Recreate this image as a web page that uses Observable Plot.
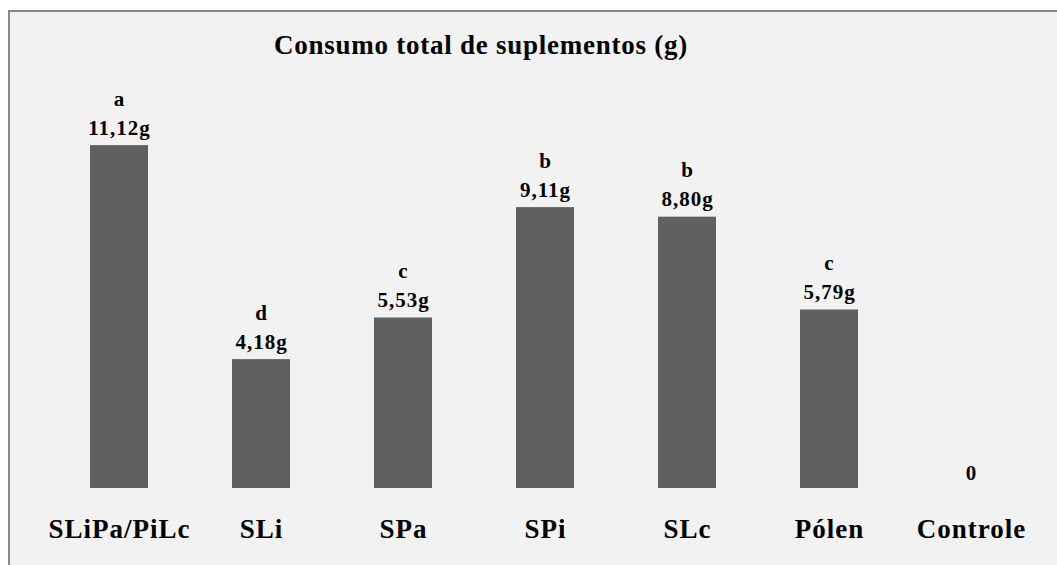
<!DOCTYPE html>
<html>
<head>
<meta charset="utf-8">
<script src="https://cdn.jsdelivr.net/npm/d3@7"></script>
<script src="https://cdn.jsdelivr.net/npm/@observablehq/plot@0.6"></script>
<style>
  html, body { margin: 0; padding: 0; background: #ffffff; width: 1057px; height: 565px; overflow: hidden; }
  #panel { position: absolute; left: 8px; top: 10px; width: 1049px; height: 555px;
           border-top: 2px solid #888888; border-left: 2px solid #888888; background: #f2f2f2; box-sizing: border-box; }
  #title { position: absolute; left: 0; top: 32px; width: 962px; text-align: center; letter-spacing: 0.75px;
           font-family: "Liberation Serif", "Times New Roman", serif; font-weight: bold; font-size: 27px; color: #000; line-height: 27px; }
  #chart { position: absolute; left: 0; top: 0; }
</style>
</head>
<body>
<div id="panel"></div>
<div id="title">Consumo total de suplementos (g)</div>
<div id="chart"></div>
<script>
const categories = ["SLiPa/PiLc", "SLi", "SPa", "SPi", "SLc", "Pólen", "Controle"];
const values = [11.12, 4.18, 5.53, 9.11, 8.80, 5.79, 0];
const valueLabels = ["11,12g", "4,18g", "5,53g", "9,11g", "8,80g", "5,79g", "0"];
const letters = ["a", "d", "c", "b", "b", "c", ""];

const data = categories.map((c, i) => ({cat: c, value: values[i], label: valueLabels[i], letter: letters[i]}));

const font = "'Liberation Serif', 'Times New Roman', serif";

const chart = Plot.plot({
  width: 1057,
  height: 565,
  marginLeft: 33,
  marginRight: 0,
  marginTop: 118,
  marginBottom: 77,
  style: {background: "transparent", fontFamily: font, fontWeight: "bold", color: "#000", letterSpacing: "1px"},
  x: {domain: categories, paddingInner: 0.59, paddingOuter: 0.4, label: null},
  y: {domain: [0, 12], axis: null},
  marks: [
    Plot.barY(data, {x: "cat", y: "value", fill: "#606060"}),
    Plot.text(data.filter(d => d.value > 0), {x: "cat", y: "value", text: "label", lineAnchor: "bottom", dy: -11, fontSize: 21, fontWeight: "bold", fill: "#000"}),
    Plot.text(data.filter(d => d.value === 0), {x: "cat", y: "value", text: "label", lineAnchor: "bottom", dy: -9, fontSize: 21, fontWeight: "bold", fill: "#000"}),
    Plot.text(data.filter(d => d.letter), {x: "cat", y: "value", text: "letter", lineAnchor: "bottom", dy: -40, fontSize: 21, fontWeight: "bold", fill: "#000"}),
    Plot.axisX({tickSize: 0, tickPadding: 30, fontSize: 27, fontWeight: "bold", label: null, fill: "#000"})
  ]
});
document.getElementById("chart").appendChild(chart);
</script>
</body>
</html>
